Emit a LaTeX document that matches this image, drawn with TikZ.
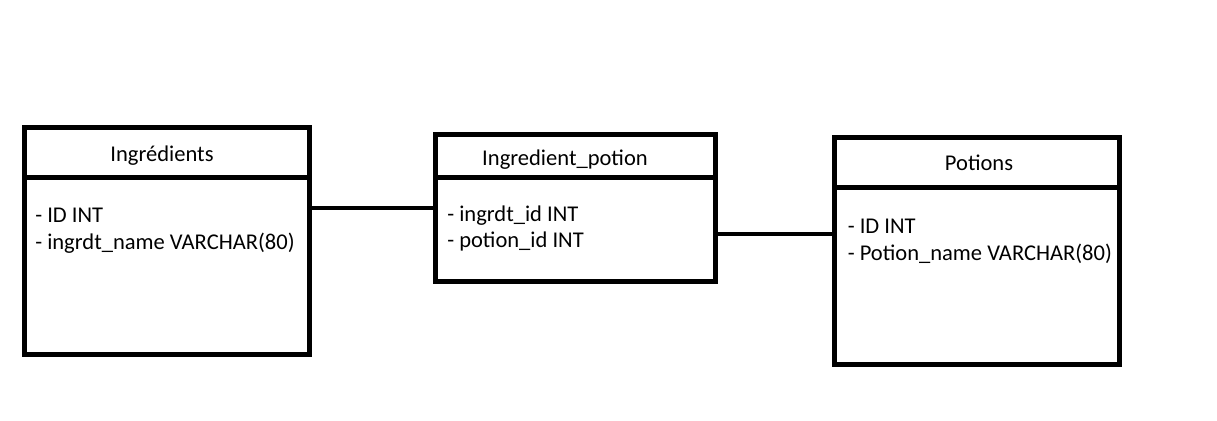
\documentclass[tikz,border=0pt]{standalone}
\usepackage{fontspec}
\setmainfont{Carlito}
\begin{document}
\begin{tikzpicture}[x=0.75pt,y=-0.75pt,
  tablebox/.style={draw=black,line width=3.75pt,minimum width=#1,inner sep=0pt,outer sep=0pt},
  heading/.style={anchor=base,inner sep=0pt,font=\fontsize{16.9}{20}\selectfont},
  field/.style={anchor=base west,inner sep=0pt,font=\fontsize{16.9}{20}\selectfont},
  link/.style={draw=black,line width=3.5pt},
  divider/.style={draw=black,line width=3.75pt}]
\useasboundingbox (0,0) rectangle (1217,421);
% tables
\node[tablebox=214.1pt,minimum height=169.9pt] (ing) at (167.25,240.75) {};
\node[tablebox=210pt,minimum height=110.25pt] (ip) at (575,207.5) {};
\node[tablebox=213.75pt,minimum height=169.9pt] (pot) at (976.5,250.75) {};
% header dividers
\coordinate (d1) at (0,177.5);
\coordinate (d2) at (0,177);
\coordinate (d3) at (0,187.5);
\coordinate (d2r) at (718,177);
\draw[divider] (ing.west |- d1) -- (ing.east |- d1);
\draw[divider] (ip.west |- d2) -- (d2r);
\draw[divider] (pot.west |- d3) -- (pot.east |- d3);
% headings
\node[heading] (h1) at (162,161) {Ingrédients};
\node[heading] (h2) at (565,165.5) {Ingredient\_potion};
\node[heading] (h3) at (979,170) {Potions};
% fields
\node[field] (f11) at (35,222) {- ID INT};
\node[field] (f12) at (35,249) {- ingrdt\_name VARCHAR(80)};
\node[field] (f21) at (447,221) {- ingrdt\_id INT};
\node[field] (f22) at (447,247.5) {- potion\_id INT};
\node[field] (f31) at (847.5,233.5) {- ID INT};
\node[field] (f32) at (847.5,260.5) {- Potion\_name VARCHAR(80)};
% connectors
\coordinate (l1) at (0,208);
\coordinate (l2) at (0,234);
\draw[link] (ing.east |- l1) -- (ip.west |- l1);
\draw[link] (ip.east |- l2) -- (pot.west |- l2);
\end{tikzpicture}
\end{document}
